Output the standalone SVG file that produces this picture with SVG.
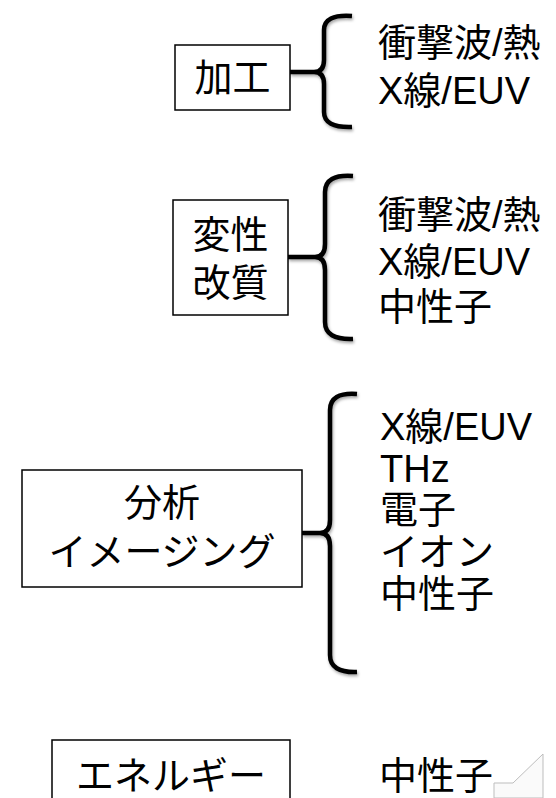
<svg xmlns="http://www.w3.org/2000/svg" width="556" height="798" viewBox="0 0 556 798">
  <defs>
    <filter id="sh" x="-20%" y="-20%" width="140%" height="140%">
      <feDropShadow dx="1" dy="2" stdDeviation="1.5" flood-color="#000" flood-opacity="0.35"/>
    </filter>
    <style>
      .box { fill: #fff; stroke: #000; stroke-width: 1.5; }
      .lbl { font-family: "Liberation Sans", "Noto Sans CJK JP", sans-serif; font-size: 38px; fill: #000; }
      .mid { text-anchor: middle; }
      .br { fill: none; stroke: #000; stroke-width: 4.5; stroke-linecap: butt; stroke-linejoin: round; filter: url(#sh); }
    </style>
  </defs>
  <rect width="556" height="798" fill="#fff"/>

  <g id="connectors">
    <path class="br" d="M352,16 Q324,14 324,30 L324,60 Q324,72 314,72 L290,72 M314,72 Q324,72 324,84 L324,112 Q324,128 352,127"/>
    <path class="br" d="M353,176 Q325,174 325,192 L325,244 Q325,257 315,257 L288,257 M315,257 Q325,257 325,270 L325,322 Q325,340 353,339"/>
    <path class="br" d="M357,394 Q330,392 330,410 L330,520 Q330,533 320,533 L302,533 M320,533 Q330,533 330,546 L330,655 Q330,673 357,672"/>
    <path class="br" d="M290,774 L359,774"/>
  </g>

  <g id="node-kakou">
    <rect class="box" x="175" y="45" width="115" height="65"/>
    <text class="lbl mid" x="232.5" y="91">加工</text>
  </g>
  <g id="list-kakou">
    <text class="lbl" x="378" y="56">衝撃波/熱</text>
    <text class="lbl" x="378" y="104">X線/EUV</text>
  </g>

  <g id="node-henseikaishitsu">
    <rect class="box" x="173" y="200" width="115" height="115"/>
    <text class="lbl mid" x="230.5" y="248">変性</text>
    <text class="lbl mid" x="230.5" y="296">改質</text>
  </g>
  <g id="list-hensei">
    <text class="lbl" x="378" y="228">衝撃波/熱</text>
    <text class="lbl" x="378" y="275">X線/EUV</text>
    <text class="lbl" x="378" y="320">中性子</text>
  </g>

  <g id="node-bunseki">
    <rect class="box" x="22" y="470" width="280" height="117"/>
    <text class="lbl mid" x="162" y="516">分析</text>
    <text class="lbl mid" x="162" y="565">イメージング</text>
  </g>
  <g id="list-bunseki">
    <text class="lbl" x="380" y="440">X線/EUV</text>
    <text class="lbl" x="380" y="482">THz</text>
    <text class="lbl" x="380" y="523">電子</text>
    <text class="lbl" x="380" y="565">イオン</text>
    <text class="lbl" x="380" y="607">中性子</text>
  </g>

  <g id="node-energy">
    <rect class="box" x="52" y="740" width="238" height="80"/>
    <text class="lbl mid" x="171" y="789">エネルギー</text>
  </g>
  <g id="list-energy">
    <text class="lbl" x="379" y="789">中性子</text>
  </g>

  <polygon points="494,798 494,783 513,783 543,754 543,798" fill="#fafafa" stroke="#bdbdbd" stroke-width="1"/>
</svg>
